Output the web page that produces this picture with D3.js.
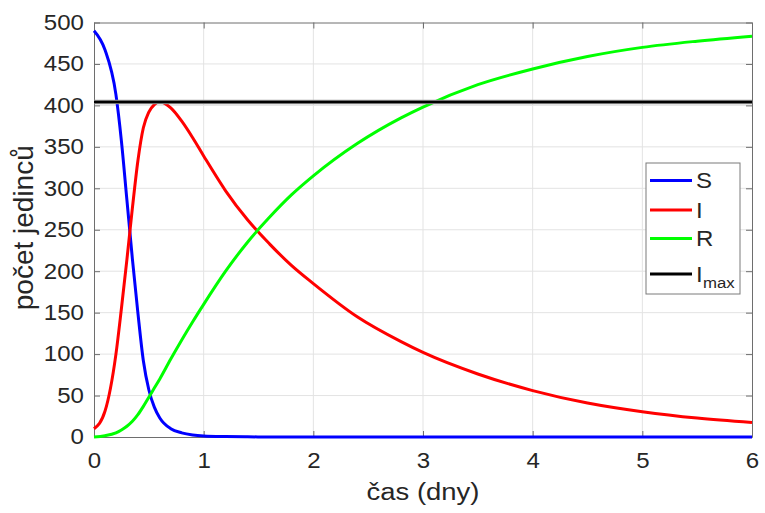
<!DOCTYPE html>
<html>
<head>
<meta charset="utf-8">
<script src="https://cdn.jsdelivr.net/npm/d3@7"></script>
<style>
  body { margin: 0; background: #fff; }
  svg text { font-family: "Liberation Sans", Arial, sans-serif; fill: #262626; }
  .wide { transform-box: fill-box; transform: scaleX(1.12); }
  .wideL { transform-origin: right center; }
  .wideC { transform-origin: center center; }
  .wideS { transform-origin: left center; }
</style>
</head>
<body>
<div id="chart"></div>
<script>
// time (days) and model values
const times = [0, 0.1, 0.2, 0.25, 0.3, 0.35, 0.4, 0.45, 0.5, 0.55, 0.6, 0.7, 0.8, 0.9, 1.0,
  1.2, 1.4, 1.6, 1.8, 2.0, 2.4, 2.8, 3.0, 3.5, 4.0, 4.5, 5.0, 5.5, 6.0];
const susceptible = [490, 467, 413, 357, 286, 215, 150, 92, 57, 36, 23, 10, 5, 2.5, 1.3,
  0.5, 0.2, 0.1, 0.05, 0, 0, 0, 0, 0, 0, 0, 0, 0, 0];
const infected = [10, 31, 100, 155, 214, 276, 333, 373, 392, 401, 404.5, 397, 381, 361, 339,
  297, 262, 233, 207, 185, 145, 115, 102, 76, 56, 41, 30.5, 22.8, 17.5];
const recovered = [0, 1.5, 5, 8.5, 13, 19, 27, 37, 48, 59, 70, 94, 117, 139, 160,
  200, 235, 265, 292, 315, 354, 385, 398, 425, 444, 459, 470, 477.5, 483.5];
const iMax = 404;

const xTicks = [0, 1, 2, 3, 4, 5, 6];
const yTicks = [0, 50, 100, 150, 200, 250, 300, 350, 400, 450, 500];

const seriesNames = ["S", "I", "R"];
const seriesColors = ["#0000ff", "#ff0000", "#00ff00"];

const W = 765, H = 513;
const margin = { top: 22.5, right: 13, bottom: 76, left: 94 };
const width = W - margin.left - margin.right,
      height = H - margin.top - margin.bottom;

const svg = d3.select("#chart").append("svg")
    .attr("width", W)
    .attr("height", H);

const g = svg.append("g")
    .attr("transform", "translate(" + margin.left + "," + margin.top + ")");

const x = d3.scaleLinear().domain([0, 6]).range([0, width]);
const y = d3.scaleLinear().domain([0, 500]).range([height, 0]);

// grid
g.append("g").selectAll("line")
    .data(xTicks.slice(1, -1))
    .enter().append("line")
    .attr("x1", d => x(d)).attr("x2", d => x(d))
    .attr("y1", 0).attr("y2", height)
    .attr("stroke", "#e3e3e3").attr("stroke-width", 1);
g.append("g").selectAll("line")
    .data(yTicks.slice(1, -1))
    .enter().append("line")
    .attr("x1", 0).attr("x2", width)
    .attr("y1", d => y(d)).attr("y2", d => y(d))
    .attr("stroke", "#e3e3e3").attr("stroke-width", 1);

// axes (ticks inward, mirrored on top/right)
function styleAxis(sel) {
    sel.select(".domain").attr("stroke", "#6e6e6e").attr("stroke-width", 1);
    sel.selectAll(".tick line").attr("stroke", "#6e6e6e").attr("stroke-width", 1);
}

const xAxis = g.append("g")
    .attr("transform", "translate(0," + height + ")")
    .call(d3.axisBottom(x).tickValues(xTicks).tickFormat(d3.format("d"))
        .tickSizeInner(-6).tickSizeOuter(0).tickPadding(16))
    .call(styleAxis);
xAxis.selectAll("text")
    .attr("font-size", 21.5)
    .attr("class", "wide wideC");

const yAxis = g.append("g")
    .call(d3.axisLeft(y).tickValues(yTicks).tickSizeInner(-6).tickSizeOuter(0).tickPadding(10))
    .call(styleAxis);
yAxis.selectAll("text")
    .attr("font-size", 21.5)
    .attr("class", "wide wideL");

g.append("g")
    .call(d3.axisTop(x).tickValues(xTicks).tickSizeInner(-6).tickSizeOuter(0).tickFormat(""))
    .call(styleAxis);
g.append("g")
    .attr("transform", "translate(" + width + ",0)")
    .call(d3.axisRight(y).tickValues(yTicks).tickSizeInner(-6).tickSizeOuter(0).tickFormat(""))
    .call(styleAxis);

// curves
const allSeries = [susceptible, infected, recovered];
const line = d3.line()
    .x((d, i) => x(times[i]))
    .y(d => y(d))
    .curve(d3.curveMonotoneX);

g.selectAll(".series")
    .data(allSeries)
    .enter().append("path")
    .attr("class", "series")
    .attr("d", d => line(d))
    .attr("fill", "none")
    .attr("stroke", (d, i) => seriesColors[i])
    .attr("stroke-width", 3)
    .attr("stroke-linejoin", "round");

// I max line
g.append("line")
    .attr("x1", 0).attr("x2", width)
    .attr("y1", y(iMax)).attr("y2", y(iMax))
    .attr("stroke", "#9a9a9a").attr("stroke-width", 4.5);
g.append("line")
    .attr("x1", 0).attr("x2", width)
    .attr("y1", y(iMax)).attr("y2", y(iMax))
    .attr("stroke", "#000").attr("stroke-width", 2.5);

// axis labels
svg.append("text")
    .attr("x", margin.left + width / 2)
    .attr("y", 500)
    .attr("text-anchor", "middle")
    .attr("font-size", 24.5)
    .attr("class", "wide wideC")
    .text("čas (dny)");

svg.append("text")
    .attr("transform", "translate(33," + (margin.top + height / 2 - 2) + ") rotate(-90)")
    .attr("text-anchor", "middle")
    .attr("font-size", 28)
    .text("počet jedinců");

// legend
const legend = svg.append("g").attr("transform", "translate(646,163)");
legend.append("rect")
    .attr("width", 94).attr("height", 131)
    .attr("fill", "#fff")
    .attr("stroke", "#7a7a7a").attr("stroke-width", 1);

const legendItems = seriesNames.map((n, i) => ({ name: n, color: seriesColors[i] }));
legendItems.push({ name: "I", sub: "max", color: "#000" });
const rowY = [17.5, 47, 75.5, 111];

const rows = legend.selectAll(".legend-item")
    .data(legendItems)
    .enter().append("g")
    .attr("class", "legend-item")
    .attr("transform", (d, i) => "translate(0," + rowY[i] + ")");
rows.append("line")
    .attr("x1", 4).attr("x2", 46)
    .attr("stroke", d => d.color).attr("stroke-width", 3);
rows.append("text")
    .attr("x", 50).attr("y", 7.5)
    .attr("font-size", 21.5)
    .attr("class", "wide wideS")
    .text(d => d.name);
legend.append("text")
    .attr("x", 57).attr("y", rowY[3] + 14)
    .attr("font-size", 15)
    .attr("class", "wide wideS")
    .text("max");
</script>
</body>
</html>
